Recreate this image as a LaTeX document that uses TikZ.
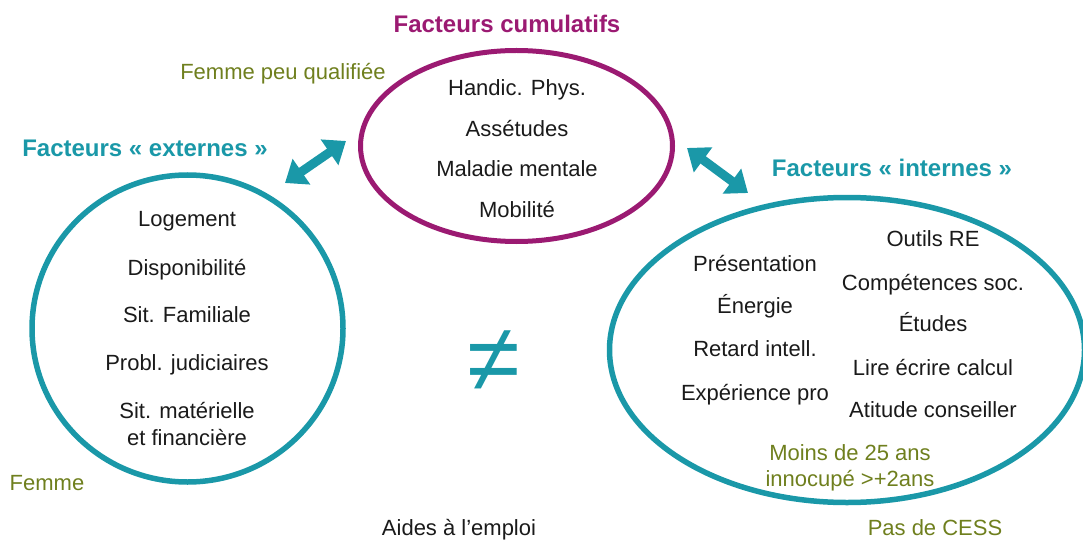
\documentclass[tikz,border=0pt]{standalone}
\usepackage{fontspec}
\setmainfont{Liberation Sans}
\usetikzlibrary{arrows.meta,shapes.geometric}
\definecolor{teal1}{HTML}{1A98A8}
\definecolor{magenta1}{HTML}{9B1A72}
\definecolor{olive1}{HTML}{6F7F1E}
\definecolor{ink}{HTML}{1A1A1A}
\def\dteal{\draw[dbl]}

\begin{document}
\begin{tikzpicture}[x=1pt,y=-1pt,
  item/.style={inner sep=0pt,text height=16pt,text depth=0pt,text=ink,font=\fontsize{22}{26}\selectfont},
  note/.style={item,text=olive1},
  title/.style={inner sep=0pt,text height=18pt,text depth=0pt,font=\bfseries\fontsize{24}{28}\selectfont},
  ring/.style={ellipse,draw,line width=5.5pt,inner sep=0pt},
  dbl/.style={teal1,line width=9pt,{Triangle[width=30pt,length=20pt]}-{Triangle[width=30pt,length=20pt]}}]
  \useasboundingbox (0,0) rectangle (1083,540);
  % the three groups
  \node[ring,magenta1,line width=5pt,minimum width=312pt,minimum height=191pt] (cumul) at (516.5,146) {};
  \node[ring,teal1,minimum width=311pt,minimum height=307pt] (ext) at (187.5,328.5) {};
  \node[ring,teal1,minimum width=475pt,minimum height=305pt] (int) at (847,350) {};
  % titles
  \node[title,text=magenta1] (tcumul) at (507,24) {Facteurs cumulatifs};
  \node[title,text=teal1] (text) at (145,148) {Facteurs « externes »};
  \node[title,text=teal1] (tint) at (892,167) {Facteurs « internes »};
  % cumulative factors
  \node[item] (hand) at (517,88) {Handic. Phys.};
  \node[item] (asse) at (517,129) {Assétudes};
  \node[item] (mala) at (517,169) {Maladie mentale};
  \node[item] (mobi) at (517,209) {Mobilité};
  % external factors
  \node[item] (loge) at (187,218) {Logement};
  \node[item] (disp) at (187,267) {Disponibilité};
  \node[item] (fami) at (187,314) {Sit. Familiale};
  \node[item] (judi) at (187,362) {Probl. judiciaires};
  \node[item] (mate) at (187,410) {Sit. matérielle};
  \node[item] (fina) at (187,437) {et financière};
  % internal factors
  \node[item] (pres) at (755,263) {Présentation};
  \node[item] (ener) at (755,305) {Énergie};
  \node[item] (reta) at (755,348) {Retard intell.};
  \node[item] (expe) at (755,392) {Expérience pro};
  \node[item] (outi) at (933,238) {Outils RE};
  \node[item] (comp) at (933,282) {Compétences soc.};
  \node[item] (etud) at (933,323) {Études};
  \node[item] (lire) at (933,367) {Lire écrire calcul};
  \node[item] (atit) at (933,409) {Atitude conseiller};
  % notes
  \node[note] (fpq) at (283,72) {Femme peu qualifiée};
  \node[note] (femme) at (47,482) {Femme};
  \node[note] (moins) at (850,452) {Moins de 25 ans};
  \node[note] (inoc) at (850,478) {innocupé >+2ans};
  \node[note] (cess) at (935,527) {Pas de CESS};
  \node[item] (aides) at (459,527) {Aides à l’emploi};
  \node[inner sep=0pt,text=teal1,font=\fontsize{96}{100}\selectfont] (neq) at (494,361) {≠};
  % links
  \coordinate (la) at (285,183);
  \coordinate (lb) at (346,141);
  \coordinate (ra) at (687,148);
  \coordinate (rb) at (748,193);
  \dteal (la) -- (lb);
  \dteal (ra) -- (rb);
\end{tikzpicture}
\end{document}
